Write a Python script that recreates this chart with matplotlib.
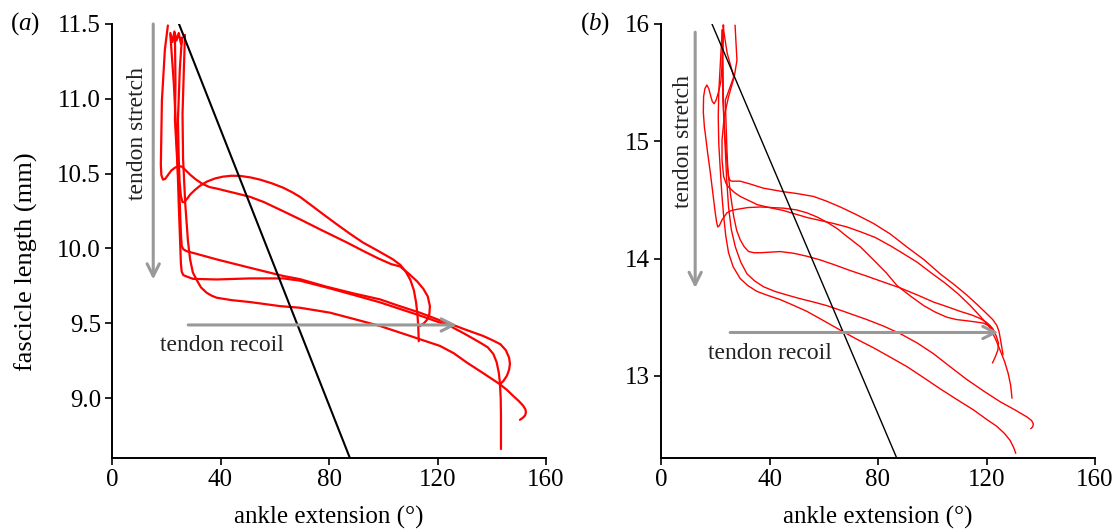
import matplotlib
matplotlib.use("Agg")
import matplotlib.pyplot as plt

plt.rcParams['font.family'] = ['Liberation Serif', 'DejaVu Serif']
plt.rcParams['mathtext.fontset'] = 'custom'
plt.rcParams['mathtext.rm'] = 'Liberation Serif'
plt.rcParams['mathtext.it'] = 'Liberation Serif:italic'

# ---------------- panel (a) data ----------------
a1_x = [20.6, 19.5, 18.4, 18.1, 18.0, 18.2, 18.8, 19.6, 20.6, 21.8, 23.2, 24.5, 25.8, 27.3, 29.0, 31.0,
        33.5, 36.0, 38.7, 42.0, 46.1, 50.9, 56.0, 63.0, 69.3, 77.0, 86.6, 93.0, 98.0, 103.0, 106.2,
        109.5, 112.5, 114.8, 116.4, 117.2, 117.0, 116.2, 115.0, 113.5]
a1_y = [11.49, 11.33, 10.99, 10.66, 10.56, 10.49, 10.46, 10.465, 10.49, 10.52, 10.54, 10.55, 10.547,
        10.52, 10.49, 10.46, 10.43, 10.41, 10.40, 10.385, 10.367, 10.345, 10.31, 10.25, 10.195, 10.125,
        10.04, 9.98, 9.935, 9.895, 9.88, 9.83, 9.78, 9.73, 9.68, 9.615, 9.56, 9.525, 9.50, 9.482]

a2_x = [21.5, 22.3, 23.0, 23.8, 24.6, 25.4, 25.8, 25.0, 24.6, 24.3, 24.6, 24.9, 25.4, 26.0, 26.6, 27.6,
        28.8, 30.5, 32.5, 35.0, 38.0, 40.9, 44.0, 47.2, 51.0, 54.6, 59.0, 63.0, 66.5, 69.3, 74.1, 78.5,
        83.0, 88.0, 92.5, 98.0, 103.6, 106.3, 108.3, 110.0, 111.3, 112.1, 112.6, 112.9, 113.1]
a2_y = [11.44, 11.38, 11.45, 11.39, 11.44, 11.37, 11.41, 11.2, 11.0, 10.86, 10.6, 10.45, 10.35, 10.31,
        10.31, 10.33, 10.36, 10.39, 10.42, 10.447, 10.468, 10.48, 10.486, 10.485, 10.475, 10.46,
        10.435, 10.407, 10.375, 10.345, 10.28, 10.22, 10.16, 10.095, 10.04, 9.985, 9.927, 9.89,
        9.845, 9.79, 9.72, 9.64, 9.56, 9.48, 9.38]

a3_x = [23.2, 23.4, 23.2, 24.0, 25.0, 25.4, 25.7, 26.3, 27.5, 31.0, 38.6, 50.9, 63.2, 69.3, 79.0, 89.0,
        98.8, 106.0, 113.5, 120.9, 124.6, 130.0, 136.9, 140.5, 143.2, 145.2, 146.4, 146.7, 146.4, 145.6,
        144.3, 143.0]
a3_y = [11.44, 11.1, 10.86, 10.6, 10.3, 10.1, 10.016, 9.995, 9.982, 9.965, 9.927, 9.871, 9.816, 9.795,
        9.745, 9.70, 9.66, 9.615, 9.571, 9.52, 9.497, 9.46, 9.415, 9.385, 9.36, 9.32, 9.27, 9.23, 9.19,
        9.15, 9.115, 9.093]

a4_x = [21.5, 22.8, 23.9, 24.6, 25.2, 25.4, 25.7, 26.3, 27.6, 29.9, 38.6, 50.9, 63.2, 69.3, 80.0, 89.0,
        98.8, 106.0, 113.5, 119.0, 124.6, 130.0, 135.7, 138.5, 140.6, 141.8, 142.6, 143.0, 143.3,
        143.4, 143.4]
a4_y = [11.43, 11.1, 10.7, 10.3, 10.0, 9.9, 9.845, 9.822, 9.812, 9.797, 9.793, 9.80, 9.80, 9.785, 9.735,
        9.69, 9.64, 9.597, 9.552, 9.517, 9.482, 9.43, 9.371, 9.34, 9.295, 9.24, 9.17, 9.104, 9.0,
        8.882, 8.66]

a5_x = [26.9, 26.5, 26.0, 26.2, 27.0, 28.0, 28.8, 29.8, 31.2, 32.8, 34.9, 36.7, 38.6, 44.0, 50.9, 61.9,
        69.3, 80.4, 90.0, 98.8, 110.0, 120.9, 126.0, 130.8, 137.0, 143.0, 145.6, 147.9, 150.0, 151.6,
        152.4, 152.6, 152.3, 151.6, 150.4]
a5_y = [11.427, 11.2, 10.9, 10.6, 10.3, 10.05, 9.927, 9.84, 9.79, 9.74, 9.704, 9.685, 9.671, 9.655,
        9.642, 9.615, 9.604, 9.571, 9.525, 9.482, 9.415, 9.349, 9.30, 9.238, 9.165, 9.093, 9.055,
        9.015, 8.98, 8.949, 8.925, 8.905, 8.885, 8.871, 8.855]

fit_a_x = [24.7, 87.7]
fit_a_y = [11.5, 8.6]

# ---------------- panel (b) data ----------------
b1_x = [22.8, 24.4, 26.0, 26.8, 24.5, 23.7, 24.3, 24.6, 24.9, 25.5, 26.2, 29.2, 33.0, 37.8, 45.2, 50.0,
        56.2, 61.0, 66.1, 72.0, 78.3, 84.5, 90.6, 97.0, 102.9, 108.0, 112.7, 116.5, 120.1, 122.3, 123.8,
        124.6, 125.0, 125.6, 126.1]
b1_y = [15.99, 15.75, 15.62, 15.55, 15.40, 15.35, 14.93, 14.78, 14.70, 14.665, 14.66, 14.66, 14.635,
        14.60, 14.57, 14.555, 14.53, 14.49, 14.44, 14.375, 14.30, 14.21, 14.10, 13.99, 13.87, 13.78,
        13.69, 13.61, 13.53, 13.48, 13.43, 13.38, 13.33, 13.25, 13.18]

b2_x = [27.3, 28.0, 27.0, 24.9, 23.3, 22.5, 22.5, 23.1, 24.0, 24.9, 27.0, 29.2, 35.5, 40.0, 45.1, 53.9,
        63.5, 68.5, 73.4, 79.0, 84.5, 89.5, 94.4, 99.5, 104.8, 109.5, 114.0, 118.0, 121.3, 123.4, 125.0,
        126.7, 128.0, 128.9, 129.4]
b2_y = [15.99, 15.69, 15.55, 15.38, 15.21, 15.01, 14.84, 14.70, 14.64, 14.61, 14.565, 14.53, 14.46,
        14.435, 14.41, 14.35, 14.30, 14.27, 14.23, 14.18, 14.11, 14.04, 13.97, 13.88, 13.79, 13.70,
        13.60, 13.50, 13.41, 13.31, 13.22, 13.12, 13.02, 12.92, 12.81]

b3_x = [23.1, 22.8, 22.5, 22.0, 21.2, 20.3, 19.6, 18.9, 18.4, 17.6, 16.9, 16.2, 15.7, 15.6, 16.0, 16.3,
        17.2, 18.2, 19.1, 20.0, 20.5, 20.9, 21.5, 22.5, 24.3, 26.0, 28.0, 32.0, 36.6, 45.2, 50.0, 53.8,
        57.5, 61.2, 65.0, 68.5, 73.5, 78.3, 83.0, 87.0, 92.0, 96.8, 101.0, 105.4, 109.0, 112.7, 116.0,
        118.9, 121.0, 122.5, 123.6, 124.4, 124.2, 123.2, 122.2]
b3_y = [15.99, 15.80, 15.64, 15.50, 15.42, 15.35, 15.32, 15.34, 15.38, 15.45, 15.48, 15.45, 15.38,
        15.25, 15.12, 15.07, 14.90, 14.73, 14.56, 14.39, 14.31, 14.27, 14.28, 14.33, 14.39, 14.41,
        14.42, 14.435, 14.44, 14.43, 14.415, 14.39, 14.355, 14.31, 14.255, 14.19, 14.10, 13.99, 13.88,
        13.77, 13.68, 13.60, 13.545, 13.50, 13.48, 13.47, 13.46, 13.45, 13.425, 13.39, 13.34, 13.28,
        13.22, 13.16, 13.11]

b4_x = [22.5, 22.8, 23.5, 24.5, 25.6, 26.8, 27.9, 29.2, 30.7, 32.3, 34.3, 36.6, 44.0, 49.0, 53.8, 58.5,
        63.6, 69.5, 75.9, 82.0, 88.2, 94.5, 100.4, 105.5, 110.3, 114.5, 117.6, 119.8, 121.3, 122.4,
        123.2]
b4_y = [15.95, 15.35, 15.05, 14.78, 14.55, 14.36, 14.24, 14.16, 14.10, 14.06, 14.05, 14.05, 14.06,
        14.045, 14.02, 13.99, 13.95, 13.90, 13.85, 13.80, 13.75, 13.69, 13.63, 13.59, 13.55, 13.52,
        13.49, 13.46, 13.43, 13.40, 13.36]

b5_x = [23.0, 22.8, 22.9, 23.0, 23.3, 23.7, 24.2, 24.9, 25.9, 27.4, 29.4, 31.7, 34.5, 37.8, 42.0, 46.4,
        51.0, 56.2, 61.0, 66.1, 71.0, 75.9, 82.0, 88.2, 94.5, 100.4, 106.5, 112.7, 119.0, 125.0, 130.5,
        134.9, 136.6, 137.3, 137.0, 136.3]
b5_y = [15.99, 15.78, 15.55, 15.35, 15.15, 14.93, 14.68, 14.44, 14.25, 14.10, 13.97, 13.87, 13.81,
        13.76, 13.72, 13.69, 13.66, 13.63, 13.60, 13.56, 13.52, 13.48, 13.425, 13.36, 13.28, 13.19,
        13.08, 12.97, 12.87, 12.78, 12.71, 12.65, 12.62, 12.59, 12.565, 12.55]

b6_x = [22.6, 22.2, 21.8, 21.3, 21.1, 21.3, 21.8, 22.4, 23.1, 23.9, 24.9, 26.6, 29.2, 32.0, 35.4, 39.5,
        44.0, 49.0, 53.8, 60.0, 66.1, 72.0, 78.3, 84.5, 90.6, 96.5, 102.9, 109.0, 115.2, 120.0, 123.8,
        126.6, 128.7, 130.0, 130.8]
b6_y = [15.95, 15.80, 15.63, 15.42, 15.21, 14.98, 14.78, 14.56, 14.36, 14.19, 14.05, 13.93, 13.83,
        13.77, 13.72, 13.685, 13.65, 13.60, 13.55, 13.47, 13.39, 13.315, 13.24, 13.16, 13.08, 12.99,
        12.89, 12.80, 12.71, 12.63, 12.57, 12.51, 12.45, 12.39, 12.34]

fit_b_x = [18.8, 86.9]
fit_b_y = [16.0, 12.3]

x_ticks = [0, 40, 80, 120, 160]
a_yticks = [9.0, 9.5, 10.0, 10.5, 11.0, 11.5]
b_yticks = [13, 14, 15, 16]

# ---------------- figure ----------------
fig = plt.figure(figsize=(11.18, 5.30), dpi=100)
axa = fig.add_axes([112 / 1118, 72 / 530, 434 / 1118, 434 / 530])
axb = fig.add_axes([661 / 1118, 72 / 530, 434 / 1118, 434 / 530])

GRAY = '#999999'
TXT = '#222222'

def style(ax, yticks, ylim, fmt):
    ax.set_xlim(0, 160)
    ax.set_ylim(*ylim)
    ax.set_xticks(x_ticks)
    ax.set_yticks(yticks)
    ax.set_yticklabels([fmt.format(v) for v in yticks])
    for s in ['top', 'right']:
        ax.spines[s].set_visible(False)
    for s in ['left', 'bottom']:
        ax.spines[s].set_linewidth(1.4)
    ax.tick_params(direction='out', length=5, width=1.2, labelsize=18, pad=3, colors='black')
    ax.set_xlabel('ankle extension (°)', fontsize=18, labelpad=11)

# panel a
for xs, ys in [(a1_x, a1_y), (a2_x, a2_y), (a3_x, a3_y), (a4_x, a4_y), (a5_x, a5_y)]:
    axa.plot(xs, ys, color='red', lw=1.6, solid_joinstyle='round', solid_capstyle='round')
axa.plot(fit_a_x, fit_a_y, color='black', lw=1.5)
axa.annotate('', xy=(15.2, 9.793), xytext=(15.2, 11.5),
             arrowprops=dict(arrowstyle='->', color=GRAY, lw=2.2, mutation_scale=22, shrinkA=0, shrinkB=0))
axa.annotate('', xy=(127.1, 9.489), xytext=(28.1, 9.489),
             arrowprops=dict(arrowstyle='->', color=GRAY, lw=2.2, mutation_scale=22, shrinkA=0, shrinkB=0))
axa.text(9.3, 10.77, 'tendon stretch', rotation=90, ha='center', va='center', fontsize=17, color=TXT)
axa.text(17.7, 9.315, 'tendon recoil', ha='left', va='baseline', fontsize=17, color=TXT)
style(axa, a_yticks, (8.6, 11.5), '{:.1f}')
axa.set_ylabel('fascicle length (mm)', fontsize=19)
axa.yaxis.set_label_coords(-0.17, 0.452)

# panel b
for xs, ys in [(b1_x, b1_y), (b2_x, b2_y), (b3_x, b3_y), (b4_x, b4_y), (b5_x, b5_y), (b6_x, b6_y)]:
    axb.plot(xs, ys, color='red', lw=1.0, solid_joinstyle='round', solid_capstyle='round')
axb.plot(fit_b_x, fit_b_y, color='black', lw=1.0)
axb.annotate('', xy=(12.6, 13.75), xytext=(12.6, 15.93),
             arrowprops=dict(arrowstyle='->', color=GRAY, lw=2.2, mutation_scale=22, shrinkA=0, shrinkB=0))
axb.annotate('', xy=(124.4, 13.37), xytext=(25.5, 13.37),
             arrowprops=dict(arrowstyle='->', color=GRAY, lw=2.2, mutation_scale=22, shrinkA=0, shrinkB=0))
axb.text(8.2, 15.0, 'tendon stretch', rotation=90, ha='center', va='center', fontsize=17, color=TXT)
axb.text(17.4, 13.144, 'tendon recoil', ha='left', va='baseline', fontsize=17, color=TXT)
style(axb, b_yticks, (12.3, 16.0), '{:d}')

fig.text(10 / 1118, 1 - 24 / 530, r'($\mathit{a}$)', fontsize=18, ha='left', va='center')
fig.text(580 / 1118, 1 - 24 / 530, r'($\mathit{b}$)', fontsize=18, ha='left', va='center')

fig.savefig('out.png', dpi=100)
